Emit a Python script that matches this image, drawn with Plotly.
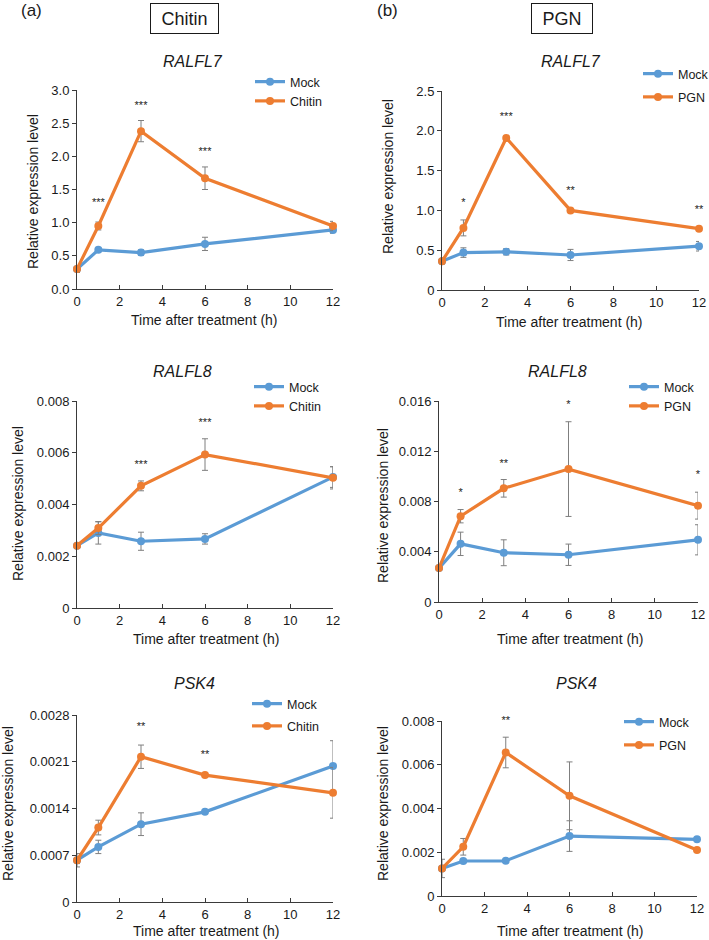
import plotly.graph_objects as go

W, H = 709, 940

# ---------------- data ----------------
time_h = [0, 1, 3, 6, 12]
x_ticks = [0, 2, 4, 6, 8, 10, 12]

# (a) Chitin - RALFL7
a1_mock = [0.30, 0.59, 0.55, 0.68, 0.89]
a1_mock_err = [0.05, 0.03, 0.04, 0.10, 0.05]
a1_trt = [0.30, 0.95, 2.38, 1.67, 0.95]
a1_trt_err = [0.05, 0.06, 0.16, 0.17, 0.07]
a1_sig = ["", "***", "***", "***", ""]
a1_sig_y = [None, 1.29, 2.76, 2.06, None]
a1_yticks = [0, 0.5, 1.0, 1.5, 2.0, 2.5, 3.0]
a1_yticktext = ["0.0", "0.5", "1.0", "1.5", "2.0", "2.5", "3.0"]

# (b) PGN - RALFL7
b1_mock = [0.36, 0.47, 0.48, 0.44, 0.55]
b1_mock_err = [0.03, 0.06, 0.04, 0.07, 0.06]
b1_trt = [0.36, 0.78, 1.91, 1.00, 0.77]
b1_trt_err = [0.03, 0.10, 0.02, 0.02, 0.02]
b1_sig = ["", "*", "***", "**", "**"]
b1_sig_y = [None, 1.09, 2.17, 1.24, 1.00]
b1_yticks = [0, 0.5, 1.0, 1.5, 2.0, 2.5]
b1_yticktext = ["0", "0.5", "1.0", "1.5", "2.0", "2.5"]

# (a) Chitin - RALFL8
a2_mock = [0.00241, 0.00290, 0.00258, 0.00267, 0.00506]
a2_mock_err = [0.00005, 0.00043, 0.00035, 0.00020, 0.00040]
a2_trt = [0.00241, 0.00309, 0.00472, 0.00593, 0.00503]
a2_trt_err = [0.00005, 0.00025, 0.00019, 0.00061, 0.00043]
a2_sig = ["", "", "***", "***", ""]
a2_sig_y = [None, None, 0.00552, 0.00715, None]
a2_yticks = [0, 0.002, 0.004, 0.006, 0.008]
a2_yticktext = ["0", "0.002", "0.004", "0.006", "0.008"]

# (b) PGN - RALFL8
b2_mock = [0.00270, 0.00463, 0.00392, 0.00376, 0.00495]
b2_mock_err = [0.00010, 0.00093, 0.00103, 0.00085, 0.00120]
b2_trt = [0.00270, 0.00683, 0.00905, 0.01058, 0.00767]
b2_trt_err = [0.00010, 0.00053, 0.00070, 0.00377, 0.00107]
b2_sig = ["", "*", "**", "*", "*"]
b2_sig_y = [None, 0.00865, 0.01100, 0.01566, 0.01010]
b2_yticks = [0, 0.004, 0.008, 0.012, 0.016]
b2_yticktext = ["0", "0.004", "0.008", "0.012", "0.016"]

# (a) Chitin - PSK4
a3_mock = [0.000625, 0.000825, 0.001165, 0.00135, 0.002035]
a3_mock_err = [0.00010, 0.00010, 0.00017, 0.00002, 0.00038]
a3_trt = [0.000625, 0.001115, 0.002175, 0.00190, 0.001635]
a3_trt_err = [0.00005, 0.00011, 0.000175, 0.00002, 0.00038]
a3_sig = ["", "", "**", "**", ""]
a3_sig_y = [None, None, 0.00262, 0.00219, None]
a3_yticks = [0, 0.0007, 0.0014, 0.0021, 0.0028]
a3_yticktext = ["0", "0.0007", "0.0014", "0.0021", "0.0028"]

# (b) PGN - PSK4
b3_mock = [0.00126, 0.00160, 0.00161, 0.00274, 0.00259]
b3_mock_err = [0.00042, 0.00005, 0.00005, 0.00070, 0.00005]
b3_trt = [0.00126, 0.00225, 0.00656, 0.00458, 0.00210]
b3_trt_err = [0.00010, 0.00038, 0.00070, 0.00155, 0.00005]
b3_sig = ["", "", "**", "", ""]
b3_sig_y = [None, None, 0.00800, None, None]
b3_yticks = [0, 0.002, 0.004, 0.006, 0.008]
b3_yticktext = ["0", "0.002", "0.004", "0.006", "0.008"]

gene_names = ["RALFL7", "RALFL8", "PSK4"]
treatments = ["Chitin", "PGN"]

# ---------------- styling / layout ----------------
BLUE = "#5B9BD5"
ORANGE = "#ED7D31"
ERR = "#7F7F7F"
AXIS = "#3A3A3A"
TXT = "#1a1a1a"
FONT = "Liberation Sans, Arial, sans-serif"


def fx(px):
    return px / W


def fy(py):
    return 1 - py / H


panels = [
    dict(mock=a1_mock, me=a1_mock_err, trt=a1_trt, te=a1_trt_err, sig=a1_sig, sigy=a1_sig_y,
         yt=a1_yticks, ytt=a1_yticktext, trt_name=treatments[0], gene=gene_names[0],
         box=(77, 333, 90, 289), title=(193, 61), ytitle=(33, 192), xtitle=(204, 320),
         leg=(255, 82), gap=0),
    dict(mock=b1_mock, me=b1_mock_err, trt=b1_trt, te=b1_trt_err, sig=b1_sig, sigy=b1_sig_y,
         yt=b1_yticks, ytt=b1_yticktext, trt_name=treatments[1], gene=gene_names[0],
         box=(442, 699, 91, 290), title=(571, 61), ytitle=(388, 177), xtitle=(569, 322),
         leg=(643, 74), gap=4),
    dict(mock=a2_mock, me=a2_mock_err, trt=a2_trt, te=a2_trt_err, sig=a2_sig, sigy=a2_sig_y,
         yt=a2_yticks, ytt=a2_yticktext, trt_name=treatments[0], gene=gene_names[1],
         box=(77, 333, 401, 608), title=(182, 371), ytitle=(18, 504), xtitle=(206, 639),
         leg=(254, 387), gap=0),
    dict(mock=b2_mock, me=b2_mock_err, trt=b2_trt, te=b2_trt_err, sig=b2_sig, sigy=b2_sig_y,
         yt=b2_yticks, ytt=b2_yticktext, trt_name=treatments[1], gene=gene_names[1],
         box=(439, 698, 401, 602), title=(557, 371), ytitle=(383, 506), xtitle=(570, 639),
         leg=(629, 387), gap=0),
    dict(mock=a3_mock, me=a3_mock_err, trt=a3_trt, te=a3_trt_err, sig=a3_sig, sigy=a3_sig_y,
         yt=a3_yticks, ytt=a3_yticktext, trt_name=treatments[0], gene=gene_names[2],
         box=(77, 333, 715, 902), title=(194, 683), ytitle=(8, 804), xtitle=(206, 931),
         leg=(252, 704), gap=3),
    dict(mock=b3_mock, me=b3_mock_err, trt=b3_trt, te=b3_trt_err, sig=b3_sig, sigy=b3_sig_y,
         yt=b3_yticks, ytt=b3_yticktext, trt_name=treatments[1], gene=gene_names[2],
         box=(442, 697, 721, 896), title=(576, 683), ytitle=(383, 804), xtitle=(570, 931),
         leg=(624, 722), gap=4),
]

fig = go.Figure()
annotations = []
layout_extra = {}

for i, p in enumerate(panels, start=1):
    xa = "x" if i == 1 else f"x{i}"
    ya = "y" if i == 1 else f"y{i}"
    lg = "legend" if i == 1 else f"legend{i}"
    x0, x1, y0, y1 = p["box"]

    for name, vals, errs, col, grp in [("Mock", p["mock"], p["me"], BLUE, f"m{i}"),
                                       (p["trt_name"], p["trt"], p["te"], ORANGE, f"t{i}")]:
        fig.add_trace(go.Scatter(
            x=time_h, y=vals, name=name, mode="lines+markers",
            line=dict(color=col, width=3.2),
            marker=dict(color=col, size=8),
            error_y=dict(type="data", array=errs, visible=True, color=ERR,
                         thickness=1, width=3),
            xaxis=xa, yaxis=ya, legend=lg, legendgroup=grp, cliponaxis=False,
            hoverinfo="skip"))

    # significance stars
    sx = [t for t, s in zip(time_h, p["sig"]) if s]
    sy = [v for v, s in zip(p["sigy"], p["sig"]) if s]
    st = [s for s in p["sig"] if s]
    fig.add_trace(go.Scatter(
        x=sx, y=sy, text=st, mode="text", textposition="middle center",
        textfont=dict(size=11, color="#222222", family=FONT),
        showlegend=False, xaxis=xa, yaxis=ya, cliponaxis=False, hoverinfo="skip"))

    ax_common = dict(showline=True, linecolor=AXIS, linewidth=1, showgrid=False,
                     zeroline=False, ticklen=4, tickcolor=AXIS, automargin=False,
                     tickfont=dict(size=13, color=TXT, family=FONT))
    layout_extra["xaxis" if i == 1 else f"xaxis{i}"] = dict(
        domain=[fx(x0), fx(x1)], anchor=ya, range=[0, 12], tickvals=x_ticks,
        ticks="inside", **ax_common)
    layout_extra["yaxis" if i == 1 else f"yaxis{i}"] = dict(
        domain=[fy(y1), fy(y0)], anchor=xa, range=[0, p["yt"][-1]],
        tickvals=p["yt"], ticktext=p["ytt"], ticks="outside", **ax_common)

    lx, ly = p["leg"]
    layout_extra[lg] = dict(x=fx(lx - 5), y=fy(ly - 15), xanchor="left", yanchor="top",
                            bgcolor="rgba(0,0,0,0)", borderwidth=0,
                            font=dict(size=12.5, color=TXT, family=FONT),
                            tracegroupgap=p["gap"], itemwidth=30)

    tx, ty = p["title"]
    annotations.append(dict(text=f"<i>{p['gene']}</i>", x=fx(tx), y=fy(ty), xref="paper",
                            yref="paper", showarrow=False, xanchor="center", yanchor="middle",
                            font=dict(size=16, color=TXT, family=FONT)))
    yx, yy = p["ytitle"]
    annotations.append(dict(text="Relative expression level", x=fx(yx), y=fy(yy),
                            xref="paper", yref="paper", showarrow=False, textangle=-90,
                            xanchor="center", yanchor="middle",
                            font=dict(size=14, color=TXT, family=FONT)))
    xx, xy = p["xtitle"]
    annotations.append(dict(text="Time after treatment (h)", x=fx(xx), y=fy(xy),
                            xref="paper", yref="paper", showarrow=False,
                            xanchor="center", yanchor="middle",
                            font=dict(size=14, color=TXT, family=FONT)))

# column headers
annotations.append(dict(text="(a)", x=fx(31), y=fy(11), xref="paper", yref="paper",
                        showarrow=False, xanchor="center", yanchor="middle",
                        font=dict(size=17, color=TXT, family=FONT)))
annotations.append(dict(text="(b)", x=fx(387), y=fy(11), xref="paper", yref="paper",
                        showarrow=False, xanchor="center", yanchor="middle",
                        font=dict(size=17, color=TXT, family=FONT)))
for name, cx in zip(treatments, [184.5, 562]):
    annotations.append(dict(text=name, x=fx(cx), y=fy(18.5), xref="paper", yref="paper",
                            showarrow=False, xanchor="center", yanchor="middle",
                            bordercolor=TXT, borderwidth=1, borderpad=5,
                            width=57 if name == "Chitin" else 50, height=19,
                            font=dict(size=18, color=TXT, family=FONT)))

fig.update_layout(width=W, height=H,
                  margin=dict(l=0, r=0, t=0, b=0, pad=0, autoexpand=False),
                  paper_bgcolor="white", plot_bgcolor="white",
                  annotations=annotations, font=dict(family=FONT), **layout_extra)

fig.write_html("out.html", config={"displayModeBar": False},
               post_script="document.body.style.margin='0px';"
                           "document.body.style.overflow='hidden';")
